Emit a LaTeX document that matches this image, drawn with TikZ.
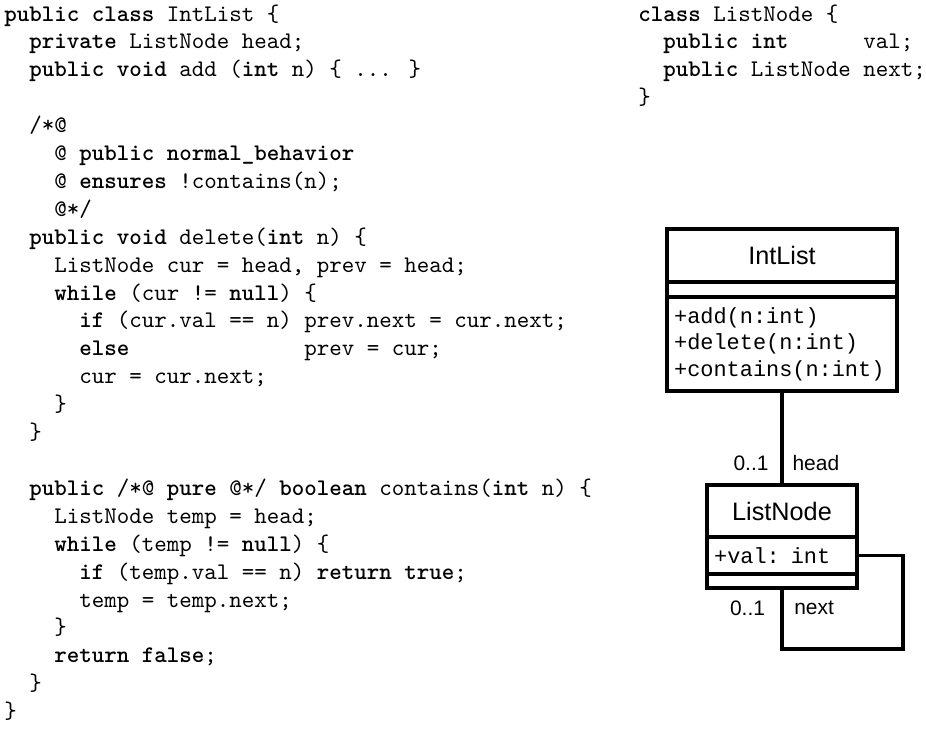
\documentclass[tikz,border=0pt]{standalone}
\usepackage{fontspec}
\newfontfamily\umlsans{Liberation Sans}
\newfontfamily\umlmono{Liberation Mono}
\usetikzlibrary{positioning}
\newlength\chw
\setlength\chw{5.25pt}
\newcommand\kw[1]{\textbf{#1}}
\newcommand\ind[1]{\hspace*{#1\chw}}
\newcommand\pxu{0.42pt}

\begin{document}
\begin{tikzpicture}[
   x=\pxu, y=-\pxu,
   code/.style={anchor=north west,inner sep=0pt,align=left,
                font=\ttfamily\fontsize{10}{11.72}\selectfont},
   cls/.style={draw,line width=1.3pt,outer sep=0pt,inner sep=0pt},
   clsname/.style={cls,font=\umlsans\fontsize{10.6}{13}\selectfont},
   clsbody/.style={cls,align=left,inner xsep=3pt,
                   font=\umlmono\fontsize{9.2}{11.2}\selectfont},
   mult/.style={font=\umlsans\fontsize{8.8}{11}\selectfont,inner sep=0pt},
   assoc/.style={line width=1.3pt}]
   \useasboundingbox (0,0) rectangle (926,753);

   % Java source of both classes
   \node[code] (intcode) at (4,4) {%
      \kw{public} \kw{class} IntList \{\\
      \ind{2}\kw{private} ListNode head;\\
      \ind{2}\kw{public} \kw{void} add (\kw{int} n) \{ ... \}\\
      \mbox{}\\
      \ind{2}/*@\\
      \ind{4}@ \kw{public} \kw{normal\_behavior}\\
      \ind{4}@ \kw{ensures} !contains(n);\\
      \ind{4}@*/\\
      \ind{2}\kw{public} \kw{void} delete(\kw{int} n) \{\\
      \ind{4}ListNode cur = head, prev = head;\\
      \ind{4}\kw{while} (cur != \kw{null}) \{\\
      \ind{6}\kw{if} (cur.val == n) prev.next = cur.next;\\
      \ind{6}\kw{else}\ind{14}prev = cur;\\
      \ind{6}cur = cur.next;\\
      \ind{4}\}\\
      \ind{2}\}\\
      \mbox{}\\
      \ind{2}\kw{public} /*@ \kw{pure} @*/ \kw{boolean} contains(\kw{int} n) \{\\
      \ind{4}ListNode temp = head;\\
      \ind{4}\kw{while} (temp != \kw{null}) \{\\
      \ind{6}\kw{if} (temp.val == n) \kw{return} \kw{true};\\
      \ind{6}temp = temp.next;\\
      \ind{4}\}\\
      \ind{4}\kw{return} \kw{false};\\
      \ind{2}\}\\
      \}};
   \node[code] (nodecode) at (638,4) {%
      \kw{class} ListNode \{\\
      \ind{2}\kw{public} \kw{int}\ind{6}val;\\
      \ind{2}\kw{public} ListNode next;\\
      \}};

   % UML class diagram
   \node[clsname,minimum width=230*\pxu,minimum height=53*\pxu] (intname) at (782,255.5) {IntList};
   \node[clsbody,minimum width=230*\pxu,minimum height=15*\pxu,below=0pt of intname] (intattr) {};
   \node[clsbody,text width=230*\pxu-6pt,minimum height=94*\pxu,below=0pt of intattr] (intops)
      {+add(n:int)\\+delete(n:int)\\+contains(n:int)};

   \node[clsname,minimum width=150*\pxu,minimum height=52*\pxu] (lnname) at (782,511) {ListNode};
   \node[clsbody,text width=150*\pxu-6pt,minimum height=37*\pxu,below=0pt of lnname] (lnattr) {+val: int};
   \node[clsbody,minimum width=150*\pxu,minimum height=14*\pxu,below=0pt of lnattr] (lnops) {};

   \coordinate (loopbot) at (782,649);
   \coordinate (loopcorner) at (903,649);
   \draw[assoc] (intops) -- node[mult,pos=0.77,left=5pt]{0..1}
                            node[mult,pos=0.77,right=3.8pt]{head} (lnname);
   \draw[assoc] (lnops) -- node[mult,pos=0.33,left=6.5pt]{0..1}
                           node[mult,pos=0.33,right=4.5pt]{next} (loopbot)
                -- (loopcorner) |- (lnattr.east);
\end{tikzpicture}
\end{document}
